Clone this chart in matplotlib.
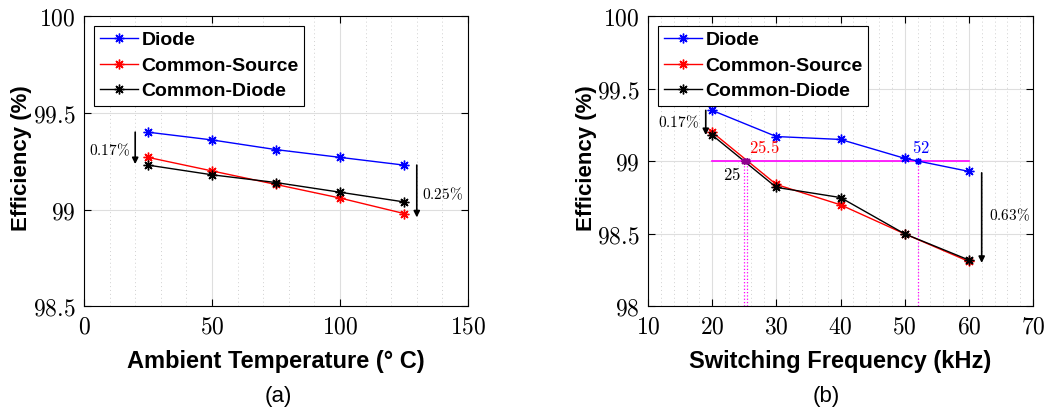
import matplotlib
matplotlib.use('Agg')
import matplotlib.pyplot as plt
from matplotlib.ticker import MultipleLocator

plt.rcParams['mathtext.fontset'] = 'cm'

# (a) ambient temperature sweep
temp = [25, 50, 75, 100, 125]
temp_diode = [99.40, 99.36, 99.31, 99.27, 99.23]
temp_cs = [99.27, 99.20, 99.13, 99.06, 98.98]
temp_cd = [99.23, 99.18, 99.14, 99.09, 99.04]

# (b) switching frequency sweep
freq = [20, 30, 40, 50, 60]
freq_diode = [99.35, 99.17, 99.15, 99.02, 98.93]
freq_cs = [99.20, 98.84, 98.70, 98.50, 98.31]
freq_cd = [99.18, 98.82, 98.75, 98.50, 98.32]

# 99 % crossing points
cross_level = 99.0
cross_x = [25, 25.5, 52]
cross_labels = ['25', '25.5', '52']

xt_a = [0, 50, 100, 150]
yt_a = [98.5, 99, 99.5, 100]
xt_b = [10, 20, 30, 40, 50, 60, 70]
yt_b = [98, 98.5, 99, 99.5, 100]

labels = ['Diode', 'Common-Source', 'Common-Diode']
colors = ['#0000ff', '#ff0000', '#000000']

sans = 'Liberation Sans'
star = (8, 2, 0)

fig = plt.figure(figsize=(10.46, 4.13), dpi=100)
ax1 = fig.add_axes([0.0803, 0.2579, 0.3671, 0.7034])
ax2 = fig.add_axes([0.6195, 0.2579, 0.3681, 0.7034])


def cm(s):
    # computer modern look, like the LaTeX tick labels of the original
    return '$' + s.replace('%', r'\%') + '$'


def set_ticks(ax, xt, yt):
    ax.set_xticks(xt)
    ax.set_yticks(yt)
    ax.set_xticklabels([cm('%g' % v) for v in xt], fontsize=17)
    ax.set_yticklabels([cm('%g' % v) for v in yt], fontsize=17)


def style_axes(ax):
    ax.tick_params(direction='in', which='both', top=True, right=True, pad=6)
    ax.tick_params(which='minor', length=0)
    ax.tick_params(which='major', length=5, width=0.8)
    ax.grid(which='major', color='#dedede', linewidth=0.8)
    ax.grid(which='minor', axis='x', color='#d0d0d0', linestyle=(0, (1, 3)), linewidth=0.7)
    ax.set_axisbelow(True)
    for s in ax.spines.values():
        s.set_linewidth(0.8)


def draw_lines(ax, x, series):
    for ys, lab, c in zip(series, labels, colors):
        ax.plot(x, ys, color=c, marker=star, markersize=7, markeredgewidth=1,
                linewidth=1.0, label=lab)
    leg = ax.legend(loc='upper left', prop={'family': sans, 'weight': 'bold', 'size': 14},
                    fancybox=False, edgecolor='black', framealpha=1, handlelength=2,
                    borderaxespad=0.5, labelspacing=0.4, handletextpad=0.15,
                    borderpad=0.3)
    leg.get_frame().set_linewidth(0.8)


def arrow(ax, x, y0, y1):
    ax.annotate('', xy=(x, y1), xytext=(x, y0),
                arrowprops=dict(arrowstyle='-|>', color='black', lw=1.2,
                                mutation_scale=9, shrinkA=0, shrinkB=0))


# ---- (a)
draw_lines(ax1, temp, [temp_diode, temp_cs, temp_cd])
ax1.set_xlim(0, 150)
ax1.set_ylim(98.5, 100)
style_axes(ax1)
set_ticks(ax1, xt_a, yt_a)
ax1.xaxis.set_minor_locator(MultipleLocator(10))
arrow(ax1, 20, temp_diode[0], temp_cd[0] + 0.005)
ax1.text(18, 99.31, cm('0.17%'), fontsize=11, ha='right', va='center')
arrow(ax1, 130, temp_diode[-1], temp_cs[-1] - 0.02)
ax1.text(132, 99.08, cm('0.25%'), fontsize=11, ha='left', va='center')
ax1.set_xlabel('Ambient Temperature (° C)', family=sans, weight='bold', fontsize=17,
               labelpad=8)
ax1.set_ylabel('Efficiency (%)', family=sans, weight='bold', fontsize=16)
ax1.yaxis.set_label_coords(-0.135, 0.51)

# ---- (b)
ax2.plot([freq[0], freq[-1]], [cross_level, cross_level], color='#ff00ff', linewidth=1.2)
for cx in cross_x:
    ax2.plot([cx, cx], [98, cross_level], color='#ff00ff', linestyle=':', linewidth=0.9)
draw_lines(ax2, freq, [freq_diode, freq_cs, freq_cd])
ax2.plot(cross_x[:2], [cross_level] * 2, linestyle='none', marker=star,
         markersize=5, color='#900090')
ax2.plot(cross_x[2:], [cross_level], linestyle='none', marker=star,
         markersize=5, color='#0000ff')
ax2.set_xlim(10, 70)
ax2.set_ylim(98, 100)
style_axes(ax2)
set_ticks(ax2, xt_b, yt_b)
ax2.xaxis.set_minor_locator(MultipleLocator(2))
ax2.text(cross_x[0] - 0.6, 98.97, cm(cross_labels[0]), fontsize=12,
         color='black', ha='right', va='top')
ax2.text(cross_x[1] + 0.2, 99.03, cm(cross_labels[1]), fontsize=12,
         color='red', ha='left', va='bottom')
ax2.text(cross_x[2] - 0.8, 99.03, cm(cross_labels[2]), fontsize=12,
         color='blue', ha='left', va='bottom')
arrow(ax2, 19, freq_diode[0], freq_cd[0])
ax2.text(18, 99.27, cm('0.17%'), fontsize=11, ha='right', va='center')
arrow(ax2, 62, 98.92, freq_cs[-1] - 0.01)
ax2.text(63.2, 98.63, cm('0.63%'), fontsize=11, ha='left', va='center')
ax2.set_xlabel('Switching Frequency (kHz)', family=sans, weight='bold', fontsize=17,
               labelpad=8)
ax2.set_ylabel('Efficiency (%)', family=sans, weight='bold', fontsize=16)
ax2.yaxis.set_label_coords(-0.132, 0.51)

fig.text(0.2657, 0.041, '(a)', family=sans, fontsize=16, ha='center', va='center')
fig.text(0.7897, 0.041, '(b)', family=sans, fontsize=16, ha='center', va='center')

fig.savefig('out.png', dpi=100)
